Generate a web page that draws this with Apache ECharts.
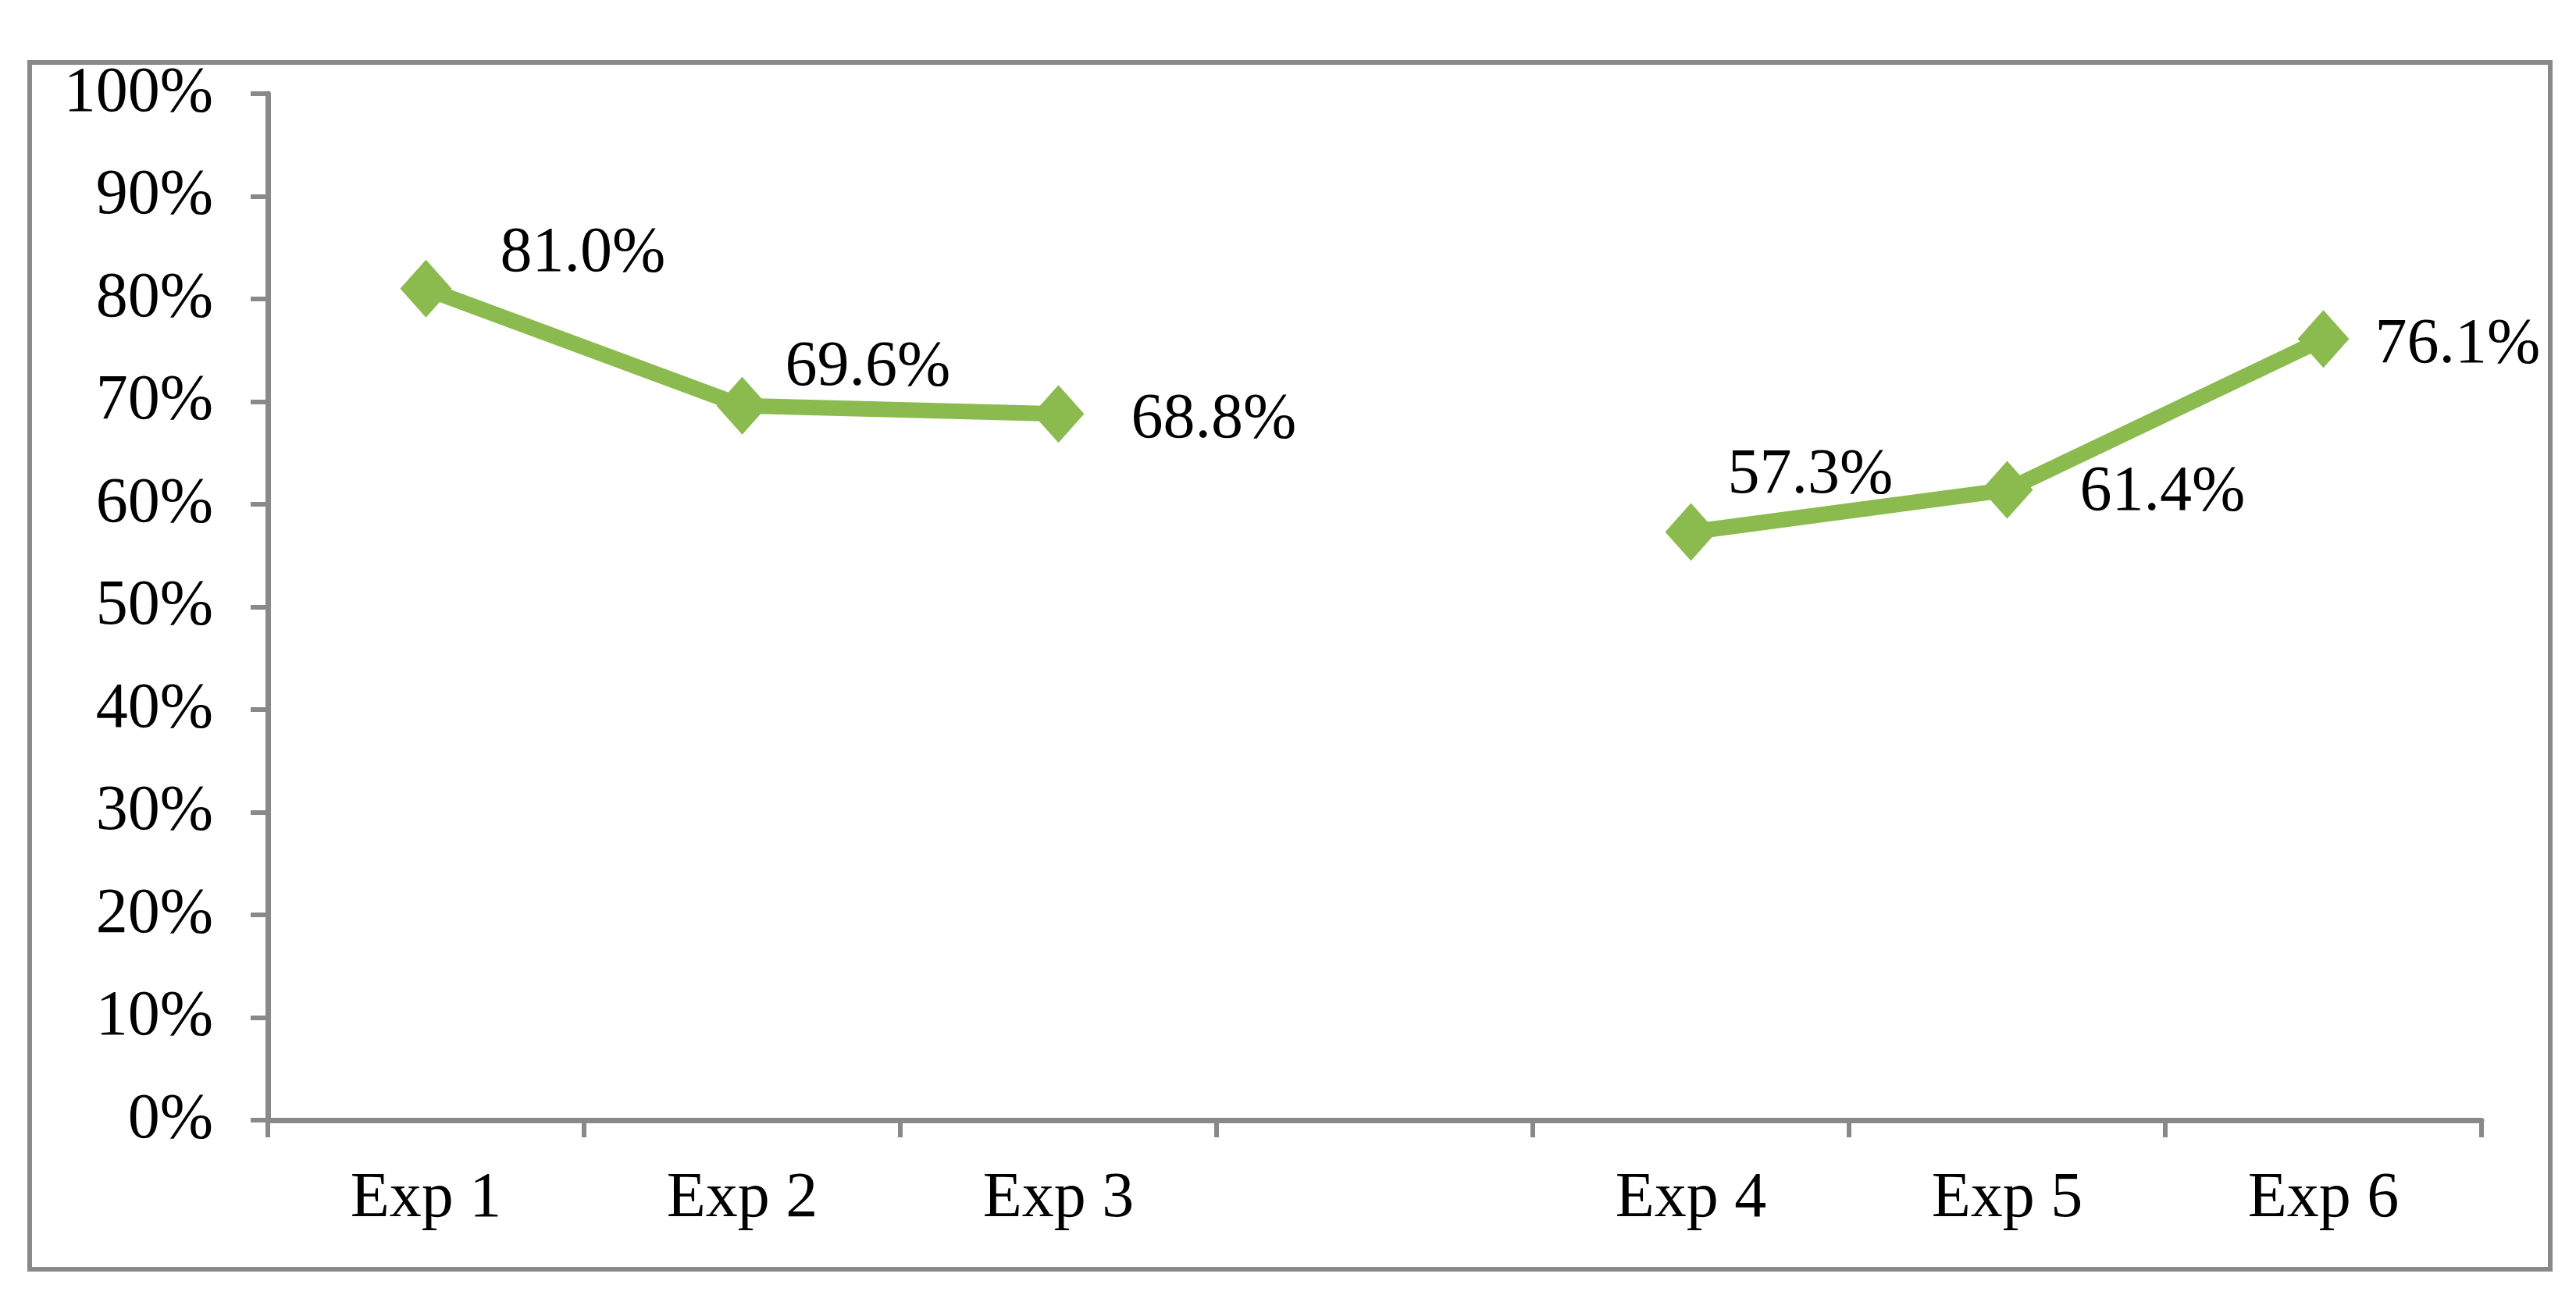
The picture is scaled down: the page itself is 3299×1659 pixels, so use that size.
<!DOCTYPE html>
<html>
<head>
<meta charset="utf-8">
<script src="https://cdn.jsdelivr.net/npm/echarts@6/dist/echarts.min.js"></script>
<style>
html,body{margin:0;padding:0;background:#fff;}
#chart{width:3299px;height:1659px;}
</style>
</head>
<body>
<div id="chart"></div>
<script>
// ---- data ----
const categories = ['Exp 1', 'Exp 2', 'Exp 3', '', 'Exp 4', 'Exp 5', 'Exp 6'];
const values = [81.0, 69.6, 68.8, null, 57.3, 61.4, 76.1];
const yTicks = [0, 10, 20, 30, 40, 50, 60, 70, 80, 90, 100];

// ---- layout (label offsets, px) ----
const labelOffsets = [[62, -44], [22, -48], [60, 8], [0, 0], [14, -72], [60, 4], [33, 8]];

const green = '#8BBB4F';
const gray = '#898989';
const font = 'Liberation Serif';

const chart = echarts.init(document.getElementById('chart'), null, {renderer: 'canvas'});

const seriesData = values.map((v, i) => ({
  value: v,
  label: { offset: labelOffsets[i] }
}));

chart.setOption({
  animation: false,
  backgroundColor: '#fff',
  grid: { left: 343, right: 121, top: 120, bottom: 224, containLabel: false },
  graphic: [{
    type: 'rect',
    shape: { x: 38, y: 80, width: 3228, height: 1546 },
    style: { fill: 'none', stroke: gray, lineWidth: 6 },
    z: 0
  }],
  xAxis: {
    type: 'category',
    data: categories,
    boundaryGap: true,
    axisLine: { show: true, lineStyle: { color: gray, width: 7 } },
    axisTick: { show: true, length: 22, lineStyle: { color: gray, width: 6 }, interval: 0 },
    axisLabel: { color: '#000', fontFamily: font, fontSize: 82, margin: 60, interval: 0 },
    splitLine: { show: false }
  },
  yAxis: {
    type: 'value',
    min: yTicks[0],
    max: yTicks[yTicks.length - 1],
    interval: 10,
    axisLine: { show: true, lineStyle: { color: gray, width: 7 } },
    axisTick: { show: true, length: 22, lineStyle: { color: gray, width: 6 } },
    axisLabel: { color: '#000', fontFamily: font, fontSize: 82, margin: 70, formatter: '{value}%' },
    splitLine: { show: false }
  },
  series: [{
    type: 'line',
    data: seriesData,
    connectNulls: false,
    symbol: 'diamond',
    symbolSize: [66, 74],
    itemStyle: { color: green },
    lineStyle: { color: green, width: 20 },
    label: {
      show: true,
      position: 'right',
      distance: 0,
      color: '#000',
      fontFamily: font,
      fontSize: 82,
      formatter: p => p.value == null ? '' : p.value.toFixed(1) + '%'
    }
  }]
});
</script>
</body>
</html>
